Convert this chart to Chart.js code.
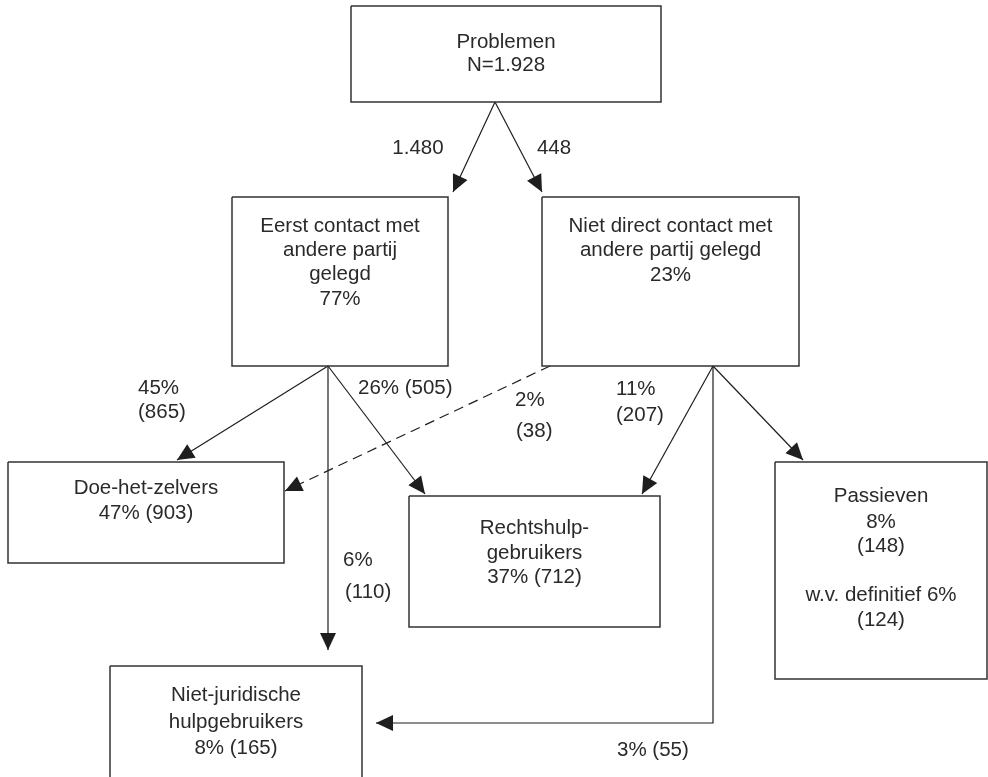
<!DOCTYPE html>
<html>
<head>
<meta charset="utf-8">
<script src="https://cdn.jsdelivr.net/npm/chart.js@4"></script>
<style>
html,body{margin:0;padding:0;background:#fff;}
#wrap{width:988px;height:777px;position:relative;}
</style>
</head>
<body>
<div id="wrap"><canvas id="c" width="988" height="777"></canvas></div>
<script>
// ---- data (text and numbers of the flowchart) ----
const nodeIds = ['prob','eerst','niet','doe','recht','nietjur','pass'];
const nodeText = [
  ['Problemen','N=1.928'],
  ['Eerst contact met','andere partij','gelegd','77%'],
  ['Niet direct contact met','andere partij gelegd','23%'],
  ['Doe-het-zelvers','47% (903)'],
  ['Rechtshulp-','gebruikers','37% (712)'],
  ['Niet-juridische','hulpgebruikers','8% (165)'],
  ['Passieven','8%','(148)','','w.v. definitief 6%','(124)']
];
const flowFrom = ['prob','prob','eerst','eerst','eerst','niet','niet','niet','niet'];
const flowTo   = ['eerst','niet','doe','recht','nietjur','doe','recht','pass','nietjur'];
const flowText = [['1.480'],['448'],['45%','(865)'],['26% (505)'],['6%','(110)'],['2%','(38)'],['11%','(207)'],[],['3% (55)']];

// ---- layout (positions in the 988x777 drawing space) ----
const boxes = {
  prob:   {x0:351,y0:6,  x1:661,y1:102, ty:[42,65]},
  eerst:  {x0:232,y0:197,x1:448,y1:366, ty:[226,250,274,299]},
  niet:   {x0:542,y0:197,x1:799,y1:366, ty:[226,250,275]},
  doe:    {x0:8,  y0:462,x1:284,y1:563, ty:[488,513]},
  recht:  {x0:409,y0:496,x1:660,y1:627, ty:[528,553,577]},
  nietjur:{x0:110,y0:666,x1:362,y1:800, ty:[695,722,748]},
  pass:   {x0:775,y0:462,x1:987,y1:679, ty:[496,522,546,570,595,620]}
};
const paths = [
  {pts:[[495,102],[453,192]], lab:[[418,148]], align:'center'},
  {pts:[[495,102],[542,192]], lab:[[554,148]], align:'center'},
  {pts:[[328,366],[177,460]], lab:[[138,388],[138,412]], align:'left'},
  {pts:[[328,366],[425,494]], lab:[[358,388]], align:'left'},
  {pts:[[328,366],[328,650]], lab:[[343,560],[345,592]], align:'left'},
  {pts:[[550,366],[285,491]], lab:[[515,400],[516,431]], align:'left', dash:true},
  {pts:[[713,366],[642,494]], lab:[[616,389],[616,415]], align:'left'},
  {pts:[[713,366],[803,460]], lab:[], align:'left'},
  {pts:[[713,366],[713,723],[376,723]], lab:[[617,750]], align:'left'}
];
const INK = '#1e1e1e';
const FONT = '"Liberation Sans", Arial, sans-serif';
const FS = 20.5;

const datasets = [];
nodeIds.forEach(id=>{
  const b = boxes[id];
  datasets.push({
    data:[{x:b.x0,y:b.y0},{x:b.x1,y:b.y0},{x:b.x1,y:b.y1},{x:b.x0,y:b.y1},{x:b.x0,y:b.y0}],
    showLine:true, borderColor:'#333', borderWidth:1.5, pointRadius:0, fill:false, tension:0
  });
});
flowFrom.forEach((f,i)=>{
  const p = paths[i];
  datasets.push({
    data:p.pts.map(q=>({x:q[0],y:q[1]})),
    showLine:true, borderColor:INK, borderWidth:1.2, pointRadius:0, fill:false, tension:0,
    borderDash: p.dash ? [10,6] : []
  });
});

const flowPlugin = {
  id:'flow',
  afterDatasetsDraw(chart){
    const ctx = chart.ctx, xs = chart.scales.x, ys = chart.scales.y;
    const X = v=>xs.getPixelForValue(v), Y = v=>ys.getPixelForValue(v);
    ctx.save();
    // arrowheads
    paths.forEach(p=>{
      const n = p.pts.length;
      const a = p.pts[n-2], b = p.pts[n-1];
      const tx = X(b[0]), ty = Y(b[1]);
      const dx = tx - X(a[0]), dy = ty - Y(a[1]);
      const L = Math.hypot(dx,dy), ux = dx/L, uy = dy/L;
      const len = 17, hw = 8;
      const bx = tx - ux*len, by = ty - uy*len;
      ctx.beginPath();
      ctx.moveTo(tx,ty);
      ctx.lineTo(bx - uy*hw, by + ux*hw);
      ctx.lineTo(bx + uy*hw, by - ux*hw);
      ctx.closePath();
      ctx.fillStyle = INK; ctx.fill();
    });
    ctx.fillStyle = '#2a2a2a';
    ctx.font = FS + 'px ' + FONT;
    ctx.textBaseline = 'middle';
    // box texts
    nodeIds.forEach((id,i)=>{
      const b = boxes[id];
      const cx = X((b.x0+b.x1)/2);
      ctx.textAlign = 'center';
      nodeText[i].forEach((t,k)=>{ if(t) ctx.fillText(t, cx, Y(b.ty[k])); });
    });
    // flow labels
    flowText.forEach((lines,i)=>{
      const p = paths[i];
      ctx.textAlign = p.align;
      lines.forEach((t,k)=>{
        const q = p.lab[k];
        if(t && q) ctx.fillText(t, X(q[0]), Y(q[1]));
      });
    });
    ctx.restore();
  }
};

new Chart(document.getElementById('c'), {
  type:'scatter',
  data:{datasets},
  options:{
    responsive:false, animation:false, maintainAspectRatio:false,
    layout:{padding:0},
    plugins:{legend:{display:false}, tooltip:{enabled:false}},
    scales:{
      x:{type:'linear', min:0, max:988, display:false},
      y:{type:'linear', min:0, max:777, reverse:true, display:false}
    }
  },
  plugins:[flowPlugin]
});
</script>
</body>
</html>
